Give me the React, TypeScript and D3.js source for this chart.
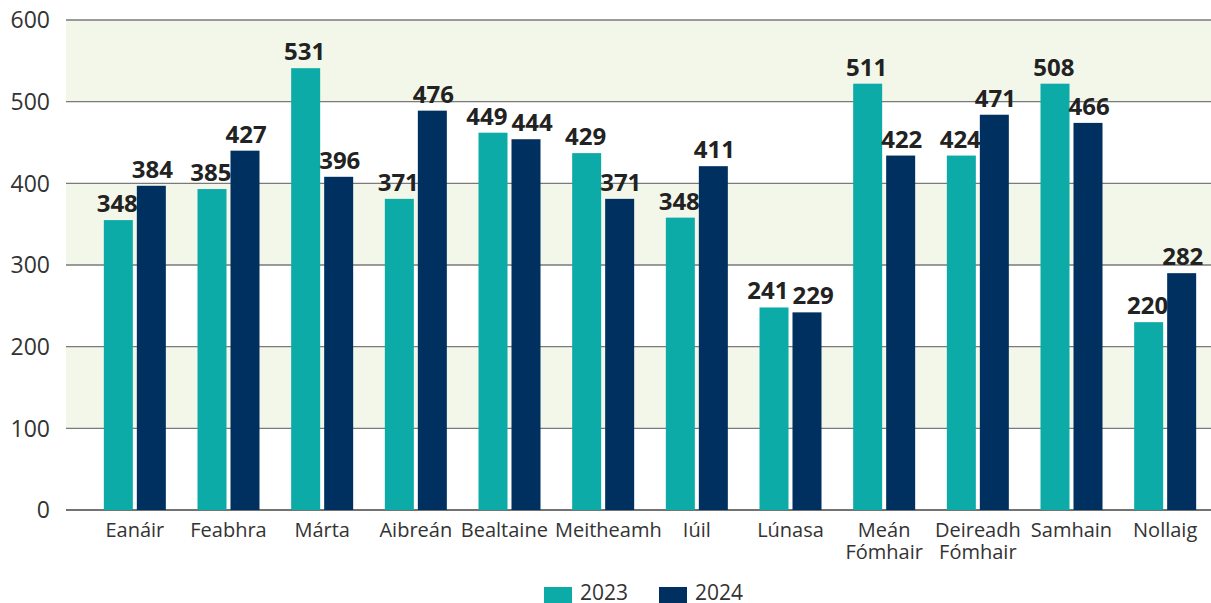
import React from "react";
import * as d3 from "d3";

const months = [
  "Eanáir", "Feabhra", "Márta", "Aibreán", "Bealtaine", "Meitheamh",
  "Iúil", "Lúnasa", "Meán Fómhair", "Deireadh Fómhair", "Samhain", "Nollaig",
];
const seriesNames = ["2023", "2024"];
// bar heights as drawn in the reference
const bars2023 = [355, 393, 541, 381, 462, 437, 358, 248, 522, 434, 522, 230];
const bars2024 = [397, 440, 408, 489, 454, 381, 421, 242, 434, 484, 474, 290];
// printed value labels
const labels2023 = [348, 385, 531, 371, 449, 429, 348, 241, 511, 424, 508, 220];
const labels2024 = [384, 427, 396, 476, 444, 371, 411, 229, 422, 471, 466, 282];
const yTicks = [0, 100, 200, 300, 400, 500, 600];

const W = 1211;
const H = 603;
const colors = ["#0DABA8", "#00305F"];
const FONT = "'Open Sans', 'Noto Sans', sans-serif";

let ctx: CanvasRenderingContext2D | null = null;
function measure(text: string, size: number, weight: number): number {
  if (!ctx && typeof document !== "undefined") {
    ctx = document.createElement("canvas").getContext("2d");
  }
  if (ctx) {
    ctx.font = `${weight} ${size}px 'Open Sans'`;
    return ctx.measureText(text).width;
  }
  return text.length * size * 0.57;
}

// push overlapping horizontal intervals apart (symmetrically), iterating a few times
function relax(items: { c: number; w: number; gap: number }[]) {
  for (let it = 0; it < 20; it++) {
    let moved = false;
    for (let i = 0; i < items.length - 1; i++) {
      const a = items[i];
      const b = items[i + 1];
      const need = (a.w + b.w) / 2 + Math.max(a.gap, b.gap);
      const have = b.c - a.c;
      if (have < need - 0.01) {
        const d = (need - have) / 2;
        a.c -= d;
        b.c += d;
        moved = true;
      }
    }
    if (!moved) break;
  }
  return items.map((d) => d.c);
}

export default function App() {
  const y = d3.scaleLinear().domain([0, 600]).range([510, 20]);
  const x = d3.scaleBand<string>().domain(months).range([88, 1212]).padding(0);
  const groupW = 62;
  const inner = d3
    .scaleBand<string>()
    .domain(seriesNames)
    .range([0, groupW])
    .paddingInner(4 / 33)
    .paddingOuter(0);
  const plotL = 66;
  const plotR = 1211;
  const barSets = [bars2023, bars2024];
  const labelSets = [labels2023, labels2024];
  const bw = inner.bandwidth();

  // category label positions (nudged apart when they collide)
  const catCenters = months.map((m) => (x(m) ?? 0) + x.bandwidth() / 2);
  const catX = relax(
    months.map((m, i) => ({
      c: catCenters[i],
      w: Math.max(...m.split(" ").map((l) => measure(l, 20, 400))),
      gap: 7,
    }))
  );

  return (
    <div style={{ position: "fixed", left: 0, top: 0, width: W, height: H, background: "#fff" }}>
      <svg width={W} height={H} style={{ display: "block" }}>
        {yTicks.slice(0, -1).map((t, i) =>
          i % 2 === 1 ? (
            <rect
              key={"band" + t}
              x={plotL}
              width={plotR - plotL}
              y={y(t + 100)}
              height={y(t) - y(t + 100)}
              fill="#F3F7E9"
            />
          ) : null
        )}
        {yTicks.map((t) => (
          <g key={"t" + t}>
            <line
              x1={plotL}
              x2={plotR}
              y1={y(t)}
              y2={y(t)}
              stroke={t === 0 ? "#444" : "#7a7a7a"}
              strokeWidth={1.4}
            />
            <text
              x={50}
              y={y(t)}
              dy="0.36em"
              textAnchor="end"
              fontFamily={FONT}
              fontSize={23}
              fill="#333"
            >
              {t}
            </text>
          </g>
        ))}
        {months.map((m, i) => {
          const cx = catCenters[i];
          const gx = cx - groupW / 2;
          const bxs = seriesNames.map((s) => gx + (inner(s) ?? 0));
          const tops = seriesNames.map((_, k) => y(barSets[k][i]));
          const vOverlap = Math.abs(tops[0] - tops[1]) < 20;
          const lx = relax(
            seriesNames.map((_, k) => ({
              c: bxs[k] + bw / 2,
              w: measure(String(labelSets[k][i]), 24, 700),
              gap: vOverlap ? 4 : -6,
            }))
          );
          return (
            <g key={m}>
              {seriesNames.map((s, k) => {
                const v = barSets[k][i];
                return (
                  <g key={s}>
                    <rect x={bxs[k]} y={y(v)} width={bw} height={y(0) - y(v)} fill={colors[k]} />
                    <text
                      x={lx[k]}
                      y={y(v) - 8}
                      textAnchor="middle"
                      fontFamily={FONT}
                      fontWeight={700}
                      fontSize={24}
                      fill="#222"
                    >
                      {labelSets[k][i]}
                    </text>
                  </g>
                );
              })}
              {m.split(" ").map((line, li) => (
                <text
                  key={li}
                  x={catX[i]}
                  y={537 + li * 21.5}
                  textAnchor="middle"
                  fontFamily={FONT}
                  fontSize={20}
                  fill="#333"
                >
                  {line}
                </text>
              ))}
            </g>
          );
        })}
        {seriesNames.map((s, k) => (
          <g key={"leg" + s} transform={`translate(${544 + k * 115},0)`}>
            <rect x={0} y={587} width={28} height={28} fill={colors[k]} />
            <text x={36} y={600} fontFamily={FONT} fontSize={21} fill="#333">
              {s}
            </text>
          </g>
        ))}
      </svg>
    </div>
  );
}
